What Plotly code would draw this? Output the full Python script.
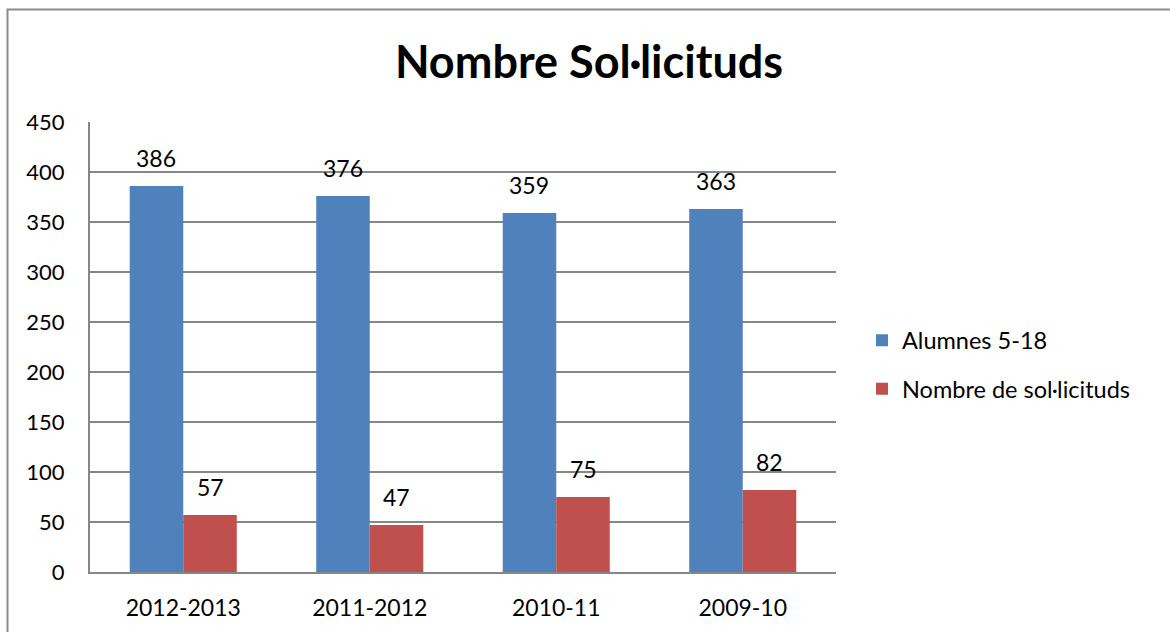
import plotly.graph_objects as go

# Course labels and values per series
cursos = ["2012-2013", "2011-2012", "2010-11", "2009-10"]
alumnes = [386, 376, 359, 363]
sollicituds = [57, 47, 75, 82]

BLUE = "#4F81BD"
RED = "#C0504D"
GRID = "#868686"
FONT = "Lato, 'Open Sans', sans-serif"

W, H = 1170, 632
L, R, T, B = 90, 334, 122, 60
BARGAP = 0.426

fig = go.Figure()
fig.add_trace(go.Bar(x=cursos, y=alumnes, name="Alumnes 5-18",
                     marker=dict(color=BLUE, line=dict(width=0)),
                     legendgroup="a"))
fig.add_trace(go.Bar(x=cursos, y=sollicituds, name="Nombre de sol·licituds",
                     marker=dict(color=RED, line=dict(width=0)),
                     legendgroup="b"))

# Value labels above each bar (offset within the group in category units)
off = (1 - BARGAP) / 4
annotations = []
for series, shift in ((alumnes, -off), (sollicituds, off)):
    for i, v in enumerate(series):
        annotations.append(dict(x=i + shift, y=v, xref="x", yref="y",
                                text=str(v), showarrow=False,
                                yanchor="middle", yshift=28,
                                font=dict(size=23, color="#000000", family=FONT)))

pw, ph = W - L - R, H - T - B
def px_x(p):
    return (p - L) / pw
def px_y(p):
    return (H - B - p) / ph

fig.update_layout(
    width=W, height=H,
    margin=dict(l=L, r=R, t=T, b=B, autoexpand=False),
    paper_bgcolor="white", plot_bgcolor="white",
    barmode="group", bargap=BARGAP, bargroupgap=0,
    title=dict(text="<b>Nombre Sol·licituds</b>", x=px_x(589), xref="paper",
               xanchor="center", y=1 - 62 / H, yanchor="middle",
               font=dict(size=45, color="#000000", family=FONT)),
    font=dict(family=FONT, color="#000000", size=23),
    legend=dict(x=px_x(862), xref="paper", y=px_y(365), yref="paper",
                yanchor="middle", xanchor="left",
                font=dict(size=23.5, family=FONT),
                traceorder="grouped", tracegroupgap=15,
                bgcolor="rgba(0,0,0,0)", itemwidth=30),
    xaxis=dict(type="category", automargin=False, showgrid=False,
               showline=True, linecolor=GRID, linewidth=2, ticks="",
               ticklabelstandoff=14, tickfont=dict(size=23, family=FONT)),
    yaxis=dict(range=[0, 450], dtick=50, automargin=False, showgrid=True,
               gridcolor=GRID, gridwidth=1.5, showline=True, linecolor=GRID,
               linewidth=2, ticks="", ticklabelstandoff=19, zeroline=False,
               tickfont=dict(size=22, family=FONT)),
    annotations=annotations,
    shapes=[dict(type="rect", xref="paper", yref="paper",
                 x0=px_x(7.5), x1=px_x(1180), y0=px_y(9.5), y1=px_y(650),
                 line=dict(color="#8c8c8c", width=2), fillcolor="rgba(0,0,0,0)",
                 layer="below")],
)

fig.write_html("out.html")
